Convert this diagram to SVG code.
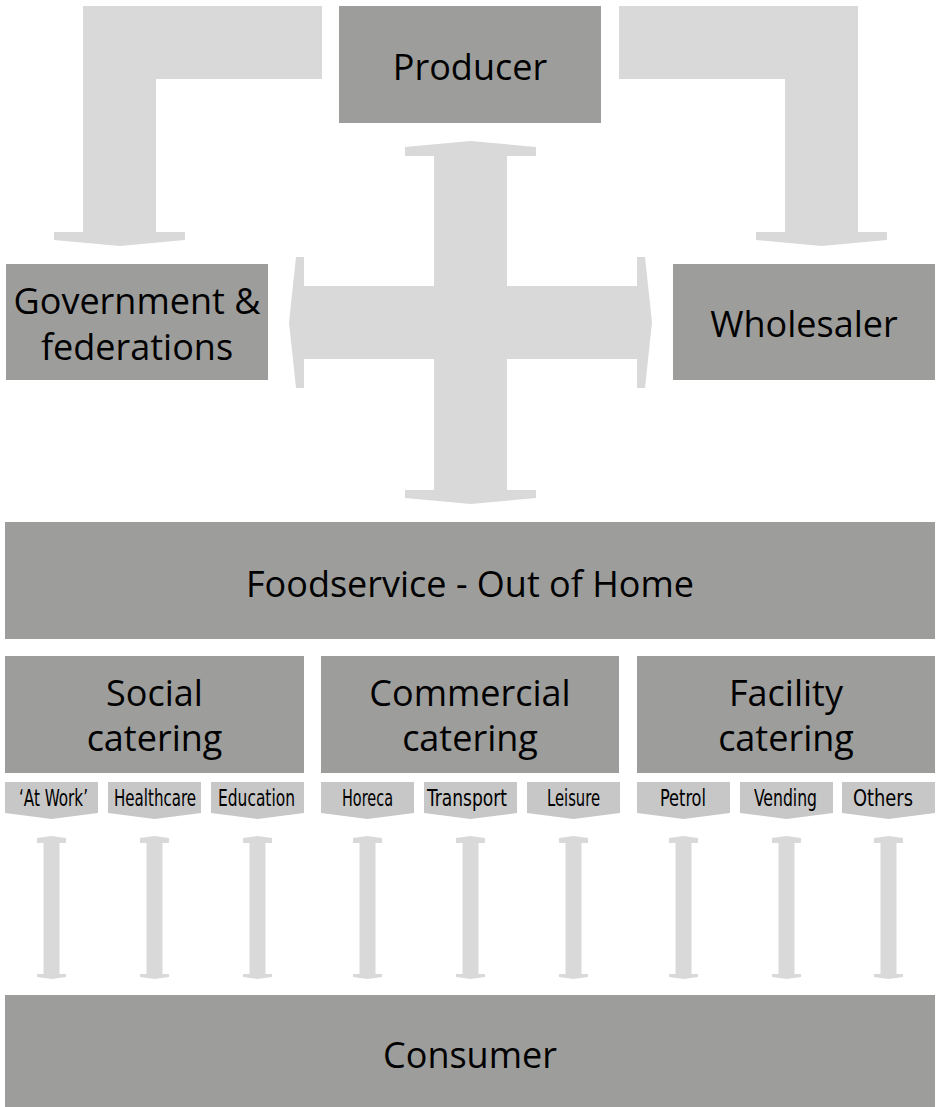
<svg xmlns="http://www.w3.org/2000/svg" width="936" height="1107" viewBox="0 0 936 1107">
<style>
.box{fill:#9d9d9b}
.lab{fill:#c7c7c7}
.arr{fill:#d9d9d9}
.t{font-family:"Open Sans","Liberation Sans",sans-serif;font-size:36px;fill:#000;text-anchor:middle}
.s{font-family:"Liberation Sans Narrow","DejaVu Sans Condensed","Liberation Sans",sans-serif;font-size:23px;fill:#000;text-anchor:middle}
</style>
<defs>
<path id="va" d="M-14.5,843 L-14.5,838 L0,836 L14.5,838 L14.5,843 L8,843 L8,974 L14.5,974 L14.5,977 L0,979 L-14.5,977 L-14.5,974 L-8,974 L-8,843 Z"/>
</defs>
<g id="connectors">
<path class="arr" d="M83,6 H322 V79 H156 V232 H185 V240 L120,246 L54,240 V232 H83 Z"/>
<path class="arr" d="M619,6 H858 V232 H887 V240 L821.5,246 L756,240 V232 H785 V79 H619 Z"/>
<path class="arr" d="M434,156 H405 V147 L470.5,141 L536,147 V156 H507 V286 H637 V257 H645 L652,322.5 L645,388 H637 V359 H507 V490 H536 V498 L470.5,504 L405,498 V490 H434 V359 H304 V388 H296 L289,322.5 L296,257 H304 V286 H434 Z"/>
<use href="#va" class="arr" x="51.5"/>
<use href="#va" class="arr" x="154.5"/>
<use href="#va" class="arr" x="257.5"/>
<use href="#va" class="arr" x="367.5"/>
<use href="#va" class="arr" x="470.5"/>
<use href="#va" class="arr" x="573.5"/>
<use href="#va" class="arr" x="683.5"/>
<use href="#va" class="arr" x="786.5"/>
<use href="#va" class="arr" x="888.5"/>
</g>
<g id="producer"><rect class="box" x="339" y="6" width="262" height="117"/><text class="t" x="470" y="80">Producer</text></g>
<g id="government"><rect class="box" x="6" y="264" width="262" height="116"/><text class="t" x="137" y="314">Government &amp;</text><text class="t" x="137" y="360">federations</text></g>
<g id="wholesaler"><rect class="box" x="673" y="264" width="262" height="116"/><text class="t" x="804" y="337">Wholesaler</text></g>
<g id="foodservice"><rect class="box" x="5" y="522" width="930" height="117"/><text class="t" x="470" y="597">Foodservice - Out of Home</text></g>
<g id="social"><rect class="box" x="5" y="656" width="299" height="117"/><text class="t" x="154.5" y="706">Social</text><text class="t" x="154.5" y="751">catering</text></g>
<g id="commercial"><rect class="box" x="321" y="656" width="298" height="117"/><text class="t" x="470" y="706">Commercial</text><text class="t" x="470" y="751">catering</text></g>
<g id="facility"><rect class="box" x="637" y="656" width="298" height="117"/><text class="t" x="786" y="706">Facility</text><text class="t" x="786" y="751">catering</text></g>
<g id="at-work"><path class="lab" d="M5,782 H98 V813 L51.5,819 L5,813 Z"/><text class="s" x="53.5" y="806" textLength="69" lengthAdjust="spacingAndGlyphs">‘At Work’</text></g>
<g id="healthcare"><path class="lab" d="M108,782 H201 V813 L154.5,819 L108,813 Z"/><text class="s" x="155" y="806" textLength="82" lengthAdjust="spacingAndGlyphs">Healthcare</text></g>
<g id="education"><path class="lab" d="M211,782 H304 V813 L257.5,819 L211,813 Z"/><text class="s" x="256.5" y="806" textLength="77" lengthAdjust="spacingAndGlyphs">Education</text></g>
<g id="horeca"><path class="lab" d="M321,782 H414 V813 L367.5,819 L321,813 Z"/><text class="s" x="367.5" y="806" textLength="51" lengthAdjust="spacingAndGlyphs">Horeca</text></g>
<g id="transport"><path class="lab" d="M424,782 H517 V813 L470.5,819 L424,813 Z"/><text class="s" x="467" y="806" textLength="80" lengthAdjust="spacingAndGlyphs">Transport</text></g>
<g id="leisure"><path class="lab" d="M527,782 H620 V813 L573.5,819 L527,813 Z"/><text class="s" x="573.5" y="806" textLength="53" lengthAdjust="spacingAndGlyphs">Leisure</text></g>
<g id="petrol"><path class="lab" d="M637,782 H730 V813 L683.5,819 L637,813 Z"/><text class="s" x="683" y="806" textLength="46" lengthAdjust="spacingAndGlyphs">Petrol</text></g>
<g id="vending"><path class="lab" d="M740,782 H833 V813 L786.5,819 L740,813 Z"/><text class="s" x="785.5" y="806" textLength="63" lengthAdjust="spacingAndGlyphs">Vending</text></g>
<g id="others"><path class="lab" d="M842,782 H935 V813 L888.5,819 L842,813 Z"/><text class="s" x="883" y="806" textLength="60" lengthAdjust="spacingAndGlyphs">Others</text></g>
<g id="consumer"><rect class="box" x="5" y="995" width="930" height="112"/><text class="t" x="470" y="1068">Consumer</text></g>
</svg>
